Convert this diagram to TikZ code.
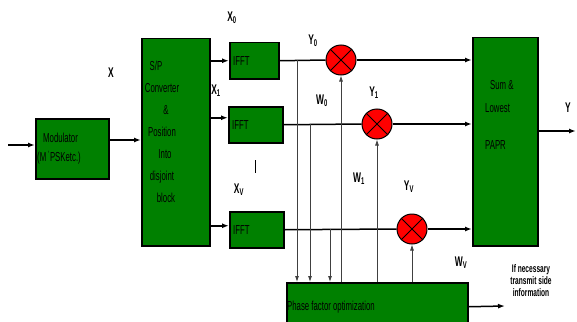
\documentclass[tikz,border=0pt]{standalone}
\usepackage{fontspec}
\newfontfamily\narrowsf[FakeStretch=0.6]{Liberation Sans}
\usetikzlibrary{arrows.meta}
\definecolor{blkgreen}{RGB}{0,128,0}
\definecolor{mulred}{RGB}{255,0,0}
\begin{document}
\begin{tikzpicture}[x=1pt, y=-1pt,
  every node/.style={font=\narrowsf\fontsize{13}{15}\selectfont, inner sep=0pt},
  blk/.style={draw=black, line width=1.5pt, fill=blkgreen, anchor=north west},
  mult/.style={circle, draw=black, line width=1pt, fill=mulred, minimum size=30pt},
  lbl/.style={font=\narrowsf\bfseries\fontsize{14}{16}\selectfont},
  arr/.style={-{Latex[length=7pt,width=5pt]}, line width=1.5pt},
  tap/.style={line width=0.8pt, draw=black!75, -{Latex[length=6pt,width=4pt]}}]
  \useasboundingbox (0,0) rectangle (577,321);
  % Modulator box
  \node[blk, minimum width=73pt, minimum height=60pt] (mod) at (35,118) {};
  \node[align=left, anchor=north west] (modtxt) at (37,133)
    {\hspace{6pt}Modulator\\[4pt](M \textsuperscript{'}PSKetc.)};
  % S/P converter box
  \node[blk, minimum width=68pt, minimum height=207pt] (sp) at (141,38) {};
  \node[align=center, font=\narrowsf\fontsize{13}{22}\selectfont] (sptxt) at (162,132)
    {\hspace{-12pt}S/P\\Converter\\\hspace{8pt}\&\\Position\\\hspace{6pt}Into\\disjoint\\\hspace{8pt}block};
  % IFFT boxes
  \node[blk, minimum width=49pt, minimum height=36pt] (ifft0) at (229,42) {};
  \node[blk, minimum width=54pt, minimum height=36pt] (ifft1) at (228,106) {};
  \node[blk, minimum width=54pt, minimum height=36pt] (ifft2) at (229,211) {};
  \node[anchor=west] (ifft0txt) at ([xshift=4pt]ifft0.west) {IFFT};
  \node[anchor=west] (ifft1txt) at ([xshift=4pt]ifft1.west) {IFFT};
  \node[anchor=west] (ifft2txt) at ([xshift=4pt]ifft2.west) {IFFT};
  % Multipliers
  \node[mult] (m0) at (341,60) {};
  \node[mult] (m1) at (377,124) {};
  \node[mult] (m2) at (412,229) {};
  \foreach \m in {m0,m1,m2} {
    \draw[line width=0.8pt] (\m.north west) -- (\m.south east);
    \draw[line width=0.8pt] (\m.north east) -- (\m.south west);
  }
  % Sum box
  \node[blk, minimum width=65pt, minimum height=208pt] (sum) at (472,37) {};
  \node[align=left, anchor=north west, font=\narrowsf\fontsize{13}{23}\selectfont] (sumtxt) at (485,80)
    {\hspace{5pt}Sum \&\\Lowest\\[14pt]PAPR};
  % Phase factor box
  \node[blk, minimum width=181pt, minimum height=48pt] (phase) at (286,282) {};
  \node[anchor=west] (phasetxt) at ([xshift=1pt]phase.west) {Phase factor optimization};
  % Labels
  \node[lbl] (lx) at (111,73) {X};
  \node[lbl] (lx0) at (232,18) {X\textsubscript{0}};
  \node[lbl] (lx1) at (216,91) {X\textsubscript{1}};
  \node[lbl] (lxv) at (239,190) {X\textsubscript{V}};
  \node[lbl] (ly0) at (313,41) {Y\textsubscript{0}};
  \node[lbl] (ly1) at (374,93) {Y\textsubscript{1}};
  \node[lbl] (lyv) at (409,187) {Y\textsubscript{V}};
  \node[lbl] (lw0) at (322,101) {W\textsubscript{0}};
  \node[lbl] (lw1) at (359,179) {W\textsubscript{1}};
  \node[lbl] (lwv) at (461,263) {W\textsubscript{V}};
  \node[lbl] (ly) at (568,108) {Y};
  \node[align=center, font=\narrowsf\bfseries\fontsize{11}{12}\selectfont] (sidetxt) at (531,281)
    {If necessary\\transmit side\\information};
  \draw[line width=0.8pt] (255,160) -- (255,173);
  % Coordinates
  \coordinate (xin) at (8,145);
  \coordinate (spin) at (141,140);
  \coordinate (in0) at (ifft0.west);
  \coordinate (in1) at ([yshift=7pt]ifft1.west);
  \coordinate (in2) at ([yshift=4pt]ifft2.west);
  \coordinate (t0) at (297,60);
  \coordinate (t1) at (310,124);
  \coordinate (t2) at (330,229);
  \coordinate (yout) at (576,131);
  \coordinate (side) at (505,306);
  % Arrows
  \draw[arr] (xin) -- (xin -| mod.west);
  \draw[arr] (spin -| mod.east) -- (spin);
  \foreach \i in {0,1,2}
    \draw[arr] (in\i -| sp.east) -- (in\i);
  \draw[line width=1.5pt] (ifft0.east) -- (m0.west);
  \draw[line width=1.5pt] (ifft1.east) -- (m1.west);
  \draw[line width=1.5pt] (ifft2.east) -- (m2.west);
  \foreach \m in {m0,m1,m2}
    \draw[arr] (\m.east) -- (\m.east -| sum.west);
  \foreach \t in {t0,t1,t2}
    \draw[tap] (\t) -- (\t |- phase.north);
  \foreach \m in {m0,m1,m2}
    \draw[tap] (\m.south |- phase.north) -- (\m.south);
  \draw[arr] (yout -| sum.east) -- (yout);
  \draw[arr] (phase.east) -- (side);
\end{tikzpicture}
\end{document}
